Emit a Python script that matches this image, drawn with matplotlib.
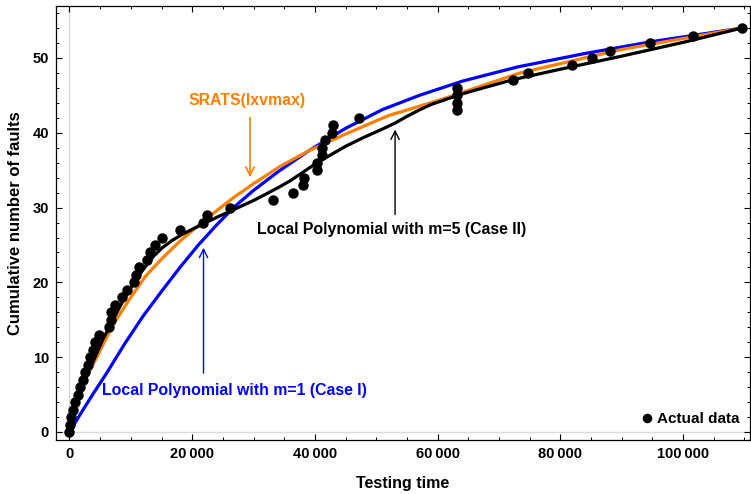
import matplotlib
matplotlib.use("Agg")
from matplotlib import pyplot as plt
import matplotlib.ticker as ticker

plt.rcParams['font.family'] = ['Liberation Sans', 'DejaVu Sans']
plt.rcParams['font.weight'] = 'bold'

# Actual data (testing time, cumulative faults)
time_data = [0, 130, 300, 570, 950, 1390, 1770, 2150, 2580, 3020, 3400, 3780, 4210, 4860,
             6500, 6700, 6750, 7370, 8500, 9370, 10460, 10840, 11280, 12630, 13170, 13990,
             15080, 17930, 21760, 22360, 26160, 33170, 36480, 38110, 38220, 40300, 40400,
             41120, 41120, 41660, 42750, 43020, 47260, 63100, 63100, 63100, 63100, 72340,
             74780, 81860, 85120, 88100, 94620, 101680, 109570]
faults = list(range(55))

# Local Polynomial m=1 (Case I)
blue_x = [0, 2000, 4000, 6000, 9000, 12000, 15000, 18000, 21000, 24000, 27000, 30000,
          34000, 39000, 45000, 51000, 57000, 64000, 73000, 84000, 95000, 109570]
blue_y = [0, 2.7, 5.3, 7.8, 11.8, 15.5, 18.8, 22.0, 25.0, 27.7, 30.2, 32.3,
          34.8, 37.6, 40.6, 43.1, 45.0, 46.9, 48.8, 50.6, 52.2, 54]

# SRATS(lxvmax)
orange_x = [0, 400, 1500, 2800, 4210, 6930, 9650, 12360, 15080, 18000, 21000, 24000,
            27000, 30000, 34300, 39000, 45180, 52000, 60390, 73430, 89730, 109570]
orange_y = [0, 1.2, 5.0, 7.4, 9.6, 14.1, 17.6, 20.8, 23.2, 25.5, 27.6, 29.6,
            31.5, 33.2, 35.5, 37.6, 39.9, 42.3, 44.4, 48.0, 51.1, 54]

# Local Polynomial m=5 (Case II)
black_x = [0, 400, 1500, 2800, 4210, 5500, 6930, 8300, 9650, 11000, 12360, 13700, 15080,
           16700, 18340, 20000, 22000, 24000, 26160, 28000, 30000, 32000, 34300, 36000,
           38000, 40000, 42460, 45000, 48000, 51000, 53060, 55000, 57130, 59000, 61480,
           64000, 67000, 72290, 80000, 89730, 100600, 109570]
black_y = [0, 1.6, 4.3, 7.6, 10.1, 12.5, 14.7, 16.9, 18.8, 20.6, 22.1, 23.5, 24.6,
           25.6, 26.4, 27.1, 27.9, 28.7, 29.5, 30.2, 30.95, 31.8, 32.8, 33.6,
           34.7, 35.8, 37.0, 38.2, 39.4, 40.5, 41.3, 42.2, 43.1, 43.8, 44.5,
           45.2, 45.9, 47.1, 48.5, 50.2, 52.2, 54]

fig = plt.figure(figsize=(7.51, 4.94), dpi=100)
ax = fig.add_axes([56 / 751, 1 - 440 / 494, 694 / 751, 434 / 494])

ax.axvline(0, color='#d8d8d8', lw=1, zorder=0)
ax.axhline(0, color='#d8d8d8', lw=1, zorder=0)

ax.plot(blue_x, blue_y, color='#0000ff', lw=2.3, zorder=2)
ax.plot(orange_x, orange_y, color='#ff8000', lw=2.3, zorder=2)
ax.plot(black_x, black_y, color='black', lw=2.3, zorder=3)
ax.plot(time_data, faults, 'o', color='black', ms=6.5, zorder=4, label='Actual data')

ax.set_xlim(-2200, 110900)
ax.set_ylim(-1.07, 56.95)

ax.xaxis.set_major_locator(ticker.MultipleLocator(20000))
ax.xaxis.set_minor_locator(ticker.MultipleLocator(5000))
ax.yaxis.set_major_locator(ticker.MultipleLocator(10))
ax.yaxis.set_minor_locator(ticker.MultipleLocator(2))
ax.xaxis.set_major_formatter(ticker.FuncFormatter(
    lambda v, p: '0' if v == 0 else f'{int(v):,}'.replace(',', '\u2009')))

ax.tick_params(which='both', direction='in', top=True, right=True, labelsize=10.5, pad=5)
ax.tick_params(which='major', length=4.5, width=0.8)
ax.tick_params(which='minor', length=2.5, width=0.7)
for s in ax.spines.values():
    s.set_linewidth(0.9)

ax.set_xlabel('Testing time', fontsize=11.5, fontweight='bold', labelpad=11)
ax.set_ylabel('Cumulative number of faults', fontsize=12, fontweight='bold', labelpad=7)

# annotations
arrow = '->,head_length=0.6,head_width=0.3'
ax.annotate('', xy=(29420, 33.7), xytext=(29420, 42.4),
            arrowprops=dict(arrowstyle=arrow, color='#ff8000', lw=1.2))
ax.text(28930, 44.25, 'SRATS(lxvmax)', color='#ff8000', fontsize=11.4, fontweight='bold',
        ha='center', va='center')

ax.annotate('', xy=(21840, 25.0), xytext=(21840, 7.5),
            arrowprops=dict(arrowstyle=arrow, color='#0000ff', lw=1.0))
ax.text(26810, 5.5, 'Local Polynomial with m=1 (Case I)', color='#0000ff', fontsize=11.4,
        fontweight='bold', ha='center', va='center')

ax.annotate('', xy=(53060, 40.8), xytext=(53060, 28.7),
            arrowprops=dict(arrowstyle=arrow, color='black', lw=1.0))
ax.text(52570, 27.1, 'Local Polynomial with m=5 (Case II)', color='black', fontsize=11.4,
        fontweight='bold', ha='center', va='center')

ax.legend(loc='lower right', bbox_to_anchor=(1.005, 0.0), frameon=False, fontsize=11,
          handletextpad=0.1, handlelength=1.2, markerscale=0.9)

fig.savefig('out.png')
